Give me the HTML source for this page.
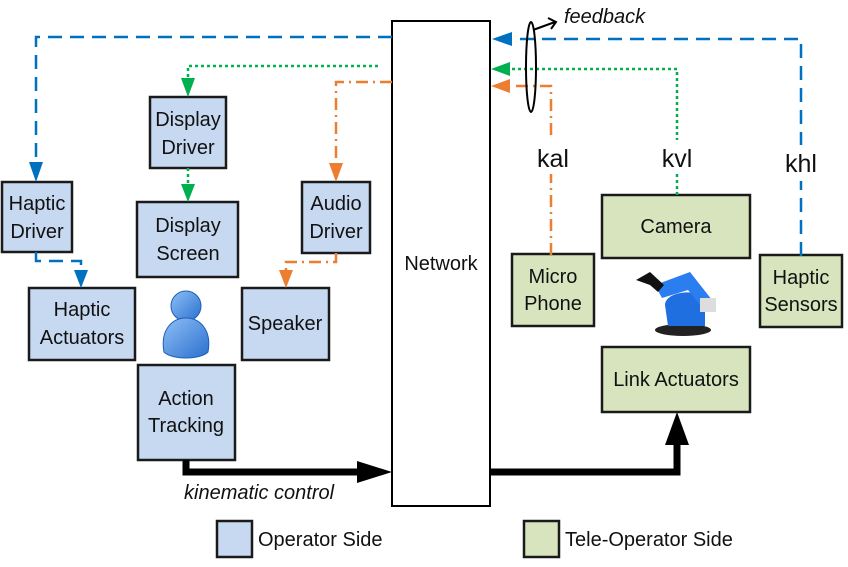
<!DOCTYPE html>
<html><head><style>
body{margin:0;background:#fff}
svg text{font-family:"Liberation Sans",sans-serif}
</style></head><body>
<svg width="848" height="562" viewBox="0 0 848 562" xmlns="http://www.w3.org/2000/svg">
<g stroke="#1a1a1a" stroke-width="2.5" fill="#c6d9f1">
<rect x="2" y="182" width="70" height="70"/>
<rect x="150" y="97" width="76" height="71"/>
<rect x="137" y="202" width="101" height="75"/>
<rect x="302" y="182" width="68" height="71"/>
<rect x="29" y="288" width="106" height="72"/>
<rect x="242" y="288" width="87" height="72"/>
<rect x="138" y="365" width="97" height="95"/>
<rect x="217" y="521" width="35" height="36"/>
</g>
<g stroke="#1a1a1a" stroke-width="2.5" fill="#d7e4bd">
<rect x="602" y="195" width="148" height="63"/>
<rect x="512" y="254" width="82" height="72"/>
<rect x="760" y="255" width="82" height="72"/>
<rect x="602" y="347" width="148" height="65"/>
<rect x="524" y="521" width="35" height="36"/>
</g>
<rect x="392" y="21" width="98" height="485" fill="#fff" stroke="#000" stroke-width="2"/>
<g fill="none" stroke="#0070c0" stroke-width="2.5" stroke-dasharray="14,8">
<path d="M392,37H36V164"/>
<path d="M36,252V261H81V272"/>
<path d="M801,256V39H514"/>
</g>
<g fill="#0070c0">
<path d="M29,162L43,162L36,182z"/>
<path d="M74,270L88,270L81,288z"/>
<path d="M492,39L512,32L512,46z"/>
</g>
<g fill="none" stroke="#00b050" stroke-width="2.5" stroke-dasharray="3,3">
<path d="M378,66H188V80"/>
<path d="M188,168V185"/>
<path d="M677,195V69H510"/>
</g>
<g fill="#00b050">
<path d="M181,78L195,78L188,97z"/>
<path d="M181,184L195,184L188,202z"/>
<path d="M491,69L510,62L510,76z"/>
</g>
<g fill="none" stroke="#ed7d31" stroke-width="2.5" stroke-dasharray="12,5,2,5">
<path d="M392,82H336V164"/>
<path d="M336,253V262H286V272"/>
<path d="M551,255V86H512"/>
</g>
<g fill="#ed7d31">
<path d="M329,163L343,163L336,182z"/>
<path d="M279,270L293,270L286,288z"/>
<path d="M491,86L510,79L510,93z"/>
</g>
<rect x="530" y="140" width="44" height="34" fill="#fff"/>
<rect x="655" y="140" width="44" height="34" fill="#fff"/>
<rect x="778" y="145" width="46" height="36" fill="#fff"/>
<path d="M186,460V472H362" fill="none" stroke="#000" stroke-width="7"/>
<path d="M357,461L392,472L357,483z"/>
<path d="M490,472H677V440" fill="none" stroke="#000" stroke-width="7"/>
<path d="M665,445L677,412L689,445z"/>
<ellipse cx="531" cy="67" rx="5" ry="45" fill="none" stroke="#000" stroke-width="2"/>
<path d="M533,30L555,22M548,18L556,22L551,29" fill="none" stroke="#000" stroke-width="2"/>
<defs><linearGradient id="pg" x1="0" y1="0" x2="1" y2="1"><stop offset="0" stop-color="#8fc0f5"/><stop offset="1" stop-color="#2a6fcf"/></linearGradient></defs>
<circle cx="186" cy="306" r="15" fill="url(#pg)" stroke="#1e5fb5"/>
<path d="M164,352C160,330 172,318 186,318C200,318 212,330 208,352C200,360 172,360 164,352z" fill="url(#pg)" stroke="#1e5fb5"/>
<g>
<ellipse cx="683" cy="330" rx="28" ry="6" fill="#222"/>
<path d="M665,305C665,292 695,288 705,298L705,326L668,326z" fill="#1f6fe0"/>
<path d="M655,285L690,272L712,300L700,305L688,290L662,298z" fill="#2a7ef0"/>
<path d="M636,280L650,272L664,285L658,292L650,285z" fill="#111"/>
<rect x="700" y="298" width="16" height="14" fill="#ddd"/>
</g>
<g font-size="20" text-anchor="middle" fill="#111">
<text x="37" y="210">Haptic</text><text x="37" y="238">Driver</text>
<text x="188" y="126">Display</text><text x="188" y="154">Driver</text>
<text x="188" y="232">Display</text><text x="188" y="260">Screen</text>
<text x="336" y="210">Audio</text><text x="336" y="238">Driver</text>
<text x="82" y="316">Haptic</text><text x="82" y="344">Actuators</text>
<text x="285" y="330">Speaker</text>
<text x="186" y="405">Action</text><text x="186" y="432">Tracking</text>
<text x="441" y="270">Network</text>
<text x="676" y="233">Camera</text>
<text x="553" y="283">Micro</text><text x="553" y="310">Phone</text>
<text x="801" y="284">Haptic</text><text x="801" y="311">Sensors</text>
<text x="676" y="386">Link Actuators</text>
</g>
<g font-size="25" text-anchor="middle" fill="#111">
<text x="553" y="167">kal</text><text x="677" y="167">kvl</text><text x="801" y="172">khl</text>
</g>
<g font-size="20" fill="#111">
<text x="258" y="546">Operator Side</text>
<text x="565" y="546">Tele-Operator Side</text>
<text x="184" y="499" font-style="italic">kinematic control</text>
<text x="564" y="23" font-style="italic">feedback</text>
</g>
</svg>
</body></html>
